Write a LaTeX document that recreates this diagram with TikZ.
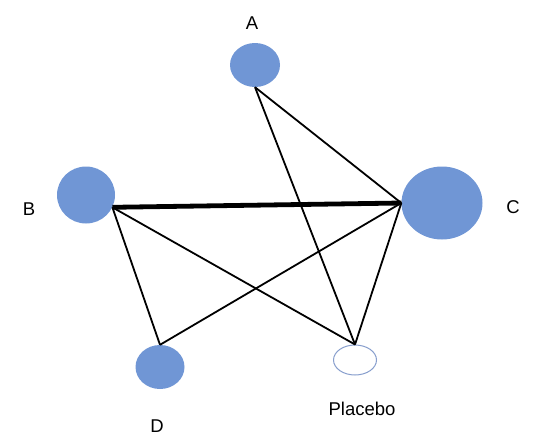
\documentclass[tikz,border=0pt]{standalone}
\usepackage{fontspec}
\setmainfont{Liberation Sans}
\usetikzlibrary{shapes.geometric}
\definecolor{armblue}{RGB}{112,150,213}
\definecolor{rimblue}{RGB}{135,158,205}
\begin{document}
\begin{tikzpicture}[x=10pt,y=-10pt,
  arm/.style={ellipse,fill=armblue,inner sep=0pt},
  lbl/.style={font=\fontsize{18.5}{22}\selectfont},
  link/.style={draw=black,line width=1.8pt},
  heavy/.style={draw=black,line width=4.8pt}]

\useasboundingbox (0,0) rectangle (54,44.5);

\node[lbl](label A) at (25.2,2.3) {A};
\node[lbl](label B) at (2.9,20.9) {B};
\node[lbl](label C) at (51.3,20.7) {C};
\node[lbl](label D) at (15.7,42.6) {D};
\node[lbl](label placebo) at (36.2,40.9) {Placebo};

\node[arm,minimum width=50pt,minimum height=44pt](A) at (25.5,6.5) {};
\node[arm,minimum width=58pt,minimum height=57pt](B) at (8.6,19.5) {};
\node[arm,minimum width=81pt,minimum height=73pt](C) at (44.2,20.3) {};
\node[arm,minimum width=49pt,minimum height=44pt](D) at (16,36.7) {};
\node[ellipse,draw=rimblue,fill=white,line width=1pt,inner sep=0pt,
  minimum width=43pt,minimum height=30pt](placebo) at (35.5,36) {};

\draw[link] (A.south) to (C.west);
\draw[link] (A.south) to (placebo.north);

\draw[heavy] (B.-25) to (C.west);
\draw[link] (B.-25) to (D.north);
\draw[link] (B.-25) to (placebo.north);

\draw[link] (C.west) to (D.north);
\draw[link] (C.west) to (placebo.north);

\end{tikzpicture}
\end{document}
